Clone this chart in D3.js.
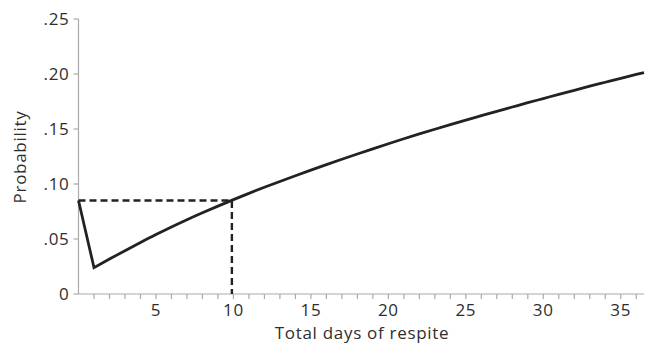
<!DOCTYPE html>
<html><head><meta charset="utf-8">
<script src="https://cdn.jsdelivr.net/npm/d3@7"></script>
<style>
html,body{margin:0;padding:0;background:#fff;}
text{font-family:"Open Sans",Lato,sans-serif;font-weight:400;fill:#2e2e2e;letter-spacing:0.7px;}
</style></head>
<body><svg id="c" width="646" height="343"></svg>
<script>
// Data
const days = [0,1,2,3,4,5,6,7,8,9,10,11,12,13,14,15,16,17,18,19,20,21,22,23,24,25,26,27,28,29,30,31,32,33,34,35,36,36.5];
const probability = [0.085,0.024,0.0318,0.0394,0.0468,0.054,0.0609,0.0675,0.0738,0.0799,0.0858,0.0915,0.097,0.1023,0.1075,0.1126,0.1176,0.1225,0.1273,0.132,0.1366,0.1411,0.1455,0.1498,0.154,0.1581,0.1621,0.1661,0.17,0.1739,0.1777,0.1815,0.1852,0.1889,0.1925,0.1961,0.1996,0.2013];
const refX = 9.9, refY = 0.085;
const xTickLabels = [5,10,15,20,25,30,35];
const yTickValues = [0,0.05,0.10,0.15,0.20,0.25];
const xTitle = "Total days of respite";
const yTitle = "Probability";

const svg = d3.select("#c");
const x = d3.scaleLinear().domain([0,36.5]).range([78.5,644]);
const y = d3.scaleLinear().domain([0,0.25]).range([294,19]);
const axisColor = "#aaa";

// X axis
const xAxis = svg.append("g").attr("transform",`translate(0,${y(0)})`);
xAxis.append("line").attr("x1",x(0)).attr("x2",x(36.5)).attr("stroke",axisColor).attr("stroke-width",1.2);
xAxis.selectAll("line.t").data(d3.range(1,37)).join("line").attr("class","t")
  .attr("x1",d=>x(d)).attr("x2",d=>x(d)).attr("y1",0).attr("y2",5)
  .attr("stroke",axisColor).attr("stroke-width",1.2);
xAxis.selectAll("text").data(xTickLabels).join("text")
  .attr("x",d=>x(d)).attr("y",22).attr("text-anchor","middle")
  .style("font-size","17px").text(d=>d);

// Y axis
const yAxis = svg.append("g").attr("transform",`translate(${x(0)},0)`);
yAxis.append("line").attr("y1",y(0)).attr("y2",y(0.25)).attr("stroke",axisColor).attr("stroke-width",1.2);
yAxis.selectAll("line.t").data(yTickValues).join("line").attr("class","t")
  .attr("x1",-5).attr("x2",0).attr("y1",d=>y(d)).attr("y2",d=>y(d))
  .attr("stroke",axisColor).attr("stroke-width",1.2);
const fmt = d => d===0 ? "0" : d3.format(".2f")(d).replace(/^0/,"");
yAxis.selectAll("text").data(yTickValues).join("text")
  .attr("x",-9).attr("y",d=>y(d)).attr("dy","0.36em").attr("text-anchor","end")
  .style("font-size","17px").text(fmt);

// Titles
svg.append("text").attr("x",362).attr("y",339).attr("text-anchor","middle")
  .style("font-size","17px").text(xTitle);
svg.append("text").attr("transform","translate(26,157) rotate(-90)").attr("text-anchor","middle")
  .style("font-size","17px").text(yTitle);

// Reference dashed lines
svg.append("path")
  .attr("d",d3.line()([[x(0),y(refY)],[x(refX),y(refY)],[x(refX),y(0)]]))
  .attr("fill","none").attr("stroke","#222").attr("stroke-width",2.4).attr("stroke-dasharray","7,4");

// Main line: straight drop from day 0 to day 1, smooth curve afterwards
const pts = days.map((d,i)=>[d,probability[i]]);
const smooth = d3.line().x(d=>x(d[0])).y(d=>y(d[1])).curve(d3.curveMonotoneX)(pts.slice(1));
const dPath = `M${x(pts[0][0])},${y(pts[0][1])}L` + smooth.slice(1);
svg.append("path").attr("d",dPath)
  .attr("fill","none").attr("stroke","#222").attr("stroke-width",2.8).attr("stroke-linejoin","miter");
</script></body></html>
